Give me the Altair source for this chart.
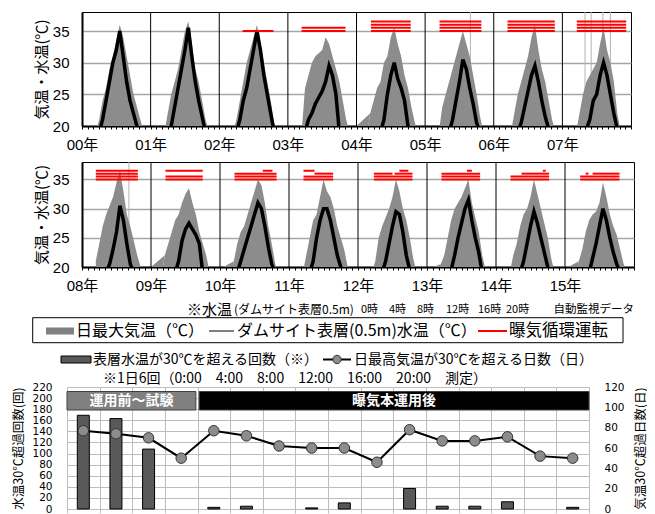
import altair as alt
import pandas as pd

FONT = "Noto Sans CJK JP"
NUM_FONT = "Liberation Sans, Noto Sans CJK JP"
BOT_NUM_FONT = "DejaVu Sans"

# ---------------- data ----------------
# sample positions inside each year (fraction of the year)
FRACS = [0.20, 0.25, 0.30, 0.35, 0.40, 0.45, 0.50, 0.55, 0.60, 0.65, 0.70, 0.75, 0.80, 0.85, 0.90]

# daily max air temperature envelope (deg C), 19 = below plotted range
AIR = {
    2000: [19, 21, 24, 26, 29, 31, 33.5, 36, 34, 31, 28, 25, 23, 21, 19],
    2001: [19, 22, 25, 27, 29, 32, 35, 36.5, 33, 29, 27, 24, 21, 19, 19],
    2002: [19, 21, 24, 27, 30, 32, 34, 36, 33, 30, 27, 24, 20.5, 19, 19],
    2003: [19, 26, 28, 30, 31, 31.5, 32, 34, 33, 31, 29, 27, 24, 21, 19],
    2004: [22, 24, 26, 27, 30, 31, 34, 35.5, 33, 31, 28, 26, 23, 20.5, 19],
    2005: [19, 23, 25, 27, 29, 31, 33, 35, 33, 31, 28, 25, 21.5, 19, 19],
    2006: [19, 19, 22, 25, 27, 29, 31, 34, 36, 32, 29, 27, 24, 21, 19],
    2007: [19, 22, 25, 27, 28, 29, 30, 33, 35.5, 32, 30, 27, 22, 19, 19],
    2008: [21, 24, 27, 29, 30.5, 32, 34.5, 36.5, 33, 29, 27, 24.5, 22, 20, 19],
    2009: [22, 24, 26, 28, 29, 31, 32.5, 33.5, 31, 29, 26, 24, 22, 19, 19],
    2010: [21, 24, 26, 27, 29, 31, 33, 35, 34, 31, 27, 24, 20.5, 19, 19],
    2011: [19, 22, 25, 28, 29, 32, 35, 33, 32, 30, 27, 25, 23, 20, 19],
    2012: [19, 21, 25, 27, 28.5, 30, 32, 35, 33, 30, 28, 25, 21.5, 19, 19],
    2013: [20.5, 22, 25, 28, 30, 31, 32, 33.5, 35, 31, 28.5, 26, 22, 19.5, 19],
    2014: [19, 22, 24, 27, 29, 30, 32, 35, 32.5, 30, 27.5, 25, 21.5, 19, 19],
    2015: [21, 23, 26, 28, 29, 29.5, 31, 34.5, 32, 29, 27, 25.5, 23, 20.5, 19],
}

# dam-site surface (0.5 m) water temperature (deg C), 19 = below plotted range
WATER = {
    2000: [19, 19, 21, 24, 27, 30, 32, 35, 31, 27, 24, 22, 20, 19, 19],
    2001: [19, 19, 20, 23, 26, 29, 32, 35.5, 31, 27, 24, 21.5, 19, 19, 19],
    2002: [19, 19, 21, 24, 26, 29, 32, 35, 32, 28, 25, 22, 19, 19, 19],
    2003: [19, 19, 21, 22, 23.5, 24.5, 25.5, 27, 29.5, 28, 25, 19, 19, 19, 19],
    2004: [19, 19, 19, 19, 21, 25, 28, 30, 27.5, 26, 24, 20, 19, 19, 19],
    2005: [19, 19, 19, 19, 21, 24, 27, 30.5, 29, 26, 23.5, 20.5, 19, 19, 19],
    2006: [19, 19, 19, 19, 20.5, 23, 25.5, 28, 29.5, 27, 24, 21.5, 19.5, 19, 19],
    2007: [19, 19, 19, 19.5, 21, 24, 25, 28, 30, 28, 25, 22, 19.5, 19, 19],
    2008: [19, 19, 19, 19, 20.5, 23, 26, 30.5, 28, 24, 20.5, 19, 19, 19, 19],
    2009: [19, 19, 19, 19, 21, 24.5, 26.5, 27.5, 26.5, 25.5, 24, 19, 19, 19, 19],
    2010: [19, 19, 21, 23, 25, 27, 29, 31, 30, 27, 23.5, 20.5, 19, 19, 19],
    2011: [19, 19, 19, 21, 25, 28, 30, 30, 28, 25, 22, 20, 19, 19, 19],
    2012: [19, 19, 19, 19, 21, 24, 27, 29.5, 29, 26, 22, 19.5, 19, 19, 19],
    2013: [19, 19, 19, 19.5, 22, 25, 27.5, 30, 31.5, 28, 25, 22.5, 19, 19, 19],
    2014: [19, 19, 19, 19, 21, 24, 27, 29.5, 27.5, 25, 22.5, 20, 19, 19, 19],
    2015: [19, 19, 19, 19, 21.5, 24, 27, 30, 28, 25, 22.5, 20.5, 19, 19, 19],
}

# isolated very high air-temperature readings (decimal year)
SPIKES = [2005.66, 2007.33, 2007.42, 2007.59, 2007.70, 2008.68]

# aeration operation periods: (year, start fraction, end fraction, level on chart)
AERATION = [
    (2002, 0.34, 0.79, 35.0),
    (2003, 0.20, 0.84, 35.0), (2003, 0.20, 0.84, 35.5),
    (2004, 0.21, 0.79, 35.0), (2004, 0.21, 0.79, 35.5), (2004, 0.21, 0.79, 36.0), (2004, 0.21, 0.79, 36.5),
    (2005, 0.21, 0.82, 35.0), (2005, 0.21, 0.82, 35.5), (2005, 0.21, 0.82, 36.0), (2005, 0.21, 0.82, 36.5),
    (2006, 0.20, 0.89, 35.0), (2006, 0.20, 0.89, 35.5), (2006, 0.20, 0.89, 36.0), (2006, 0.20, 0.89, 36.5),
    (2007, 0.21, 0.93, 35.0), (2007, 0.21, 0.93, 35.5), (2007, 0.21, 0.93, 36.0), (2007, 0.21, 0.93, 36.5),
    (2008, 0.20, 0.81, 35.0), (2008, 0.20, 0.81, 35.5), (2008, 0.20, 0.81, 36.0), (2008, 0.20, 0.81, 36.5),
    (2009, 0.21, 0.75, 35.0), (2009, 0.21, 0.75, 35.5), (2009, 0.21, 0.75, 36.5),
    (2010, 0.21, 0.82, 35.0), (2010, 0.21, 0.82, 35.5), (2010, 0.21, 0.82, 36.0), (2010, 0.62, 0.76, 36.5),
    (2011, 0.21, 0.64, 35.0), (2011, 0.21, 0.64, 35.5), (2011, 0.37, 0.64, 36.0), (2011, 0.21, 0.37, 36.5),
    (2012, 0.23, 0.79, 35.0), (2012, 0.23, 0.79, 35.5), (2012, 0.23, 0.50, 36.0), (2012, 0.53, 0.79, 36.0),
    (2012, 0.60, 0.73, 36.5),
    (2013, 0.21, 0.77, 35.0), (2013, 0.21, 0.77, 35.5), (2013, 0.21, 0.77, 36.0), (2013, 0.58, 0.65, 36.5),
    (2014, 0.21, 0.77, 35.0), (2014, 0.21, 0.77, 35.5), (2014, 0.37, 0.77, 36.0), (2014, 0.68, 0.72, 36.5),
    (2015, 0.22, 0.79, 35.0), (2015, 0.22, 0.79, 35.5), (2015, 0.40, 0.79, 36.0), (2015, 0.30, 0.34, 36.0),
]

YEARS = list(range(2000, 2016))
OVER30_COUNTS = [169, 163, 108, 0, 3, 5, 0, 2, 11, 0, 37, 5, 5, 13, 0, 3]
HOT_DAYS = [77, 74, 70, 50, 77, 72, 62, 60, 60, 46, 78, 67, 67, 71, 52, 50]
PHASES = [("運用前～試験", 2000.0, 2003.95), ("曝気本運用後", 2004.05, 2016.0)]

NOTE_HEAD = ["※水温", "(ダムサイト表層0.5m)"]
NOTE_TIMES = ["0時", "4時", "8時", "12時", "16時", "20時"]
NOTE_TAIL = "自動監視データ"
LEGEND_LABELS = ["日最大気温（℃）", "ダムサイト表層(0.5m)水温（℃）", "曝気循環運転"]
BOT_LEGEND = ["表層水温が30℃を超える回数（※）", "日最高気温が30℃を超える日数（日）"]
BOT_NOTE = "※1日6回（0:00　4:00　8:00　12:00　16:00　20:00　測定）"

# ---------------- tables ----------------
ts = pd.DataFrame([
    {"year": y, "x": y + f, "air": a, "water": w}
    for y in YEARS for f, a, w in zip(FRACS, AIR[y], WATER[y])
])
aer = pd.DataFrame([{"year": y, "x": y + s, "xe": y + e, "lvl": l} for y, s, e, l in AERATION])
spk = pd.DataFrame({"x": SPIKES})
one = pd.DataFrame({"k": [0]})


def txt(label, x, y, size, align="left", baseline="middle", color="black", weight="normal"):
    return alt.Chart(pd.DataFrame({"t": [label]})).mark_text(
        align=align, baseline=baseline, fontSize=size, color=color, fontWeight=weight
    ).encode(x=alt.value(x), y=alt.value(y), text="t:N")


# all panels share the same plot origin (page x = 81); an invisible blank axis
# title fixes the left extent so the origin does not move
def row_chart(start, end, width, height):
    xs = alt.Scale(domain=[start, end], nice=False, zero=False, padding=0)
    ys = alt.Scale(domain=[20, 38], nice=False, zero=False)
    ticks = [round(start + i / 12, 5) for i in range(12 * (end - start) + 1)]
    lab = ("abs(datum.value - round(datum.value)) < 0.01 && round(datum.value) < %d ? "
           "substring(toString(round(datum.value)), 2) + '年' : ''") % end
    xaxis = alt.Axis(values=ticks, grid=False, ticks=True, tickSize=3, tickColor="black",
                     domainColor="black", domainWidth=2, labelExpr=lab, labelOverlap=False,
                     labelFlush=False, labelFont=NUM_FONT, labelFontSize=15, labelColor="black",
                     labelPadding=8, title=" ", titleX=-73, titleY=-30, titleAlign="left",
                     titleFontSize=2)
    yaxis = alt.Axis(values=[20, 25, 30, 35], grid=True, gridColor="#a6a6a6", gridWidth=1.5,
                     ticks=False, domainColor="black", domainWidth=2, labelFont=NUM_FONT,
                     labelFontSize=15, labelColor="black", labelPadding=13,
                     title="気温・水温(℃)", titleX=-41, titleY=height / 2, titleAngle=270,
                     titleAlign="center", titleBaseline="middle", titleFontSize=15,
                     titleFontWeight="normal", titleColor="black", titleLimit=300)
    d = ts[(ts.year >= start) & (ts.year < end)]
    a = aer[(aer.year >= start) & (aer.year < end)]
    s = spk[(spk.x >= start) & (spk.x < end)]
    yl = pd.DataFrame({"x": list(range(start + 1, end))})
    X = lambda f: alt.X(f, scale=xs, axis=xaxis)
    spikes = alt.Chart(s).mark_rule(color="#b4b4b4", strokeWidth=1, clip=True).encode(x=X("x:Q"))
    air = alt.Chart(d).mark_area(color="#8c8c8c", clip=True).encode(
        x=X("x:Q"), y=alt.Y("air:Q", scale=ys, axis=yaxis), detail="year:N")
    water = alt.Chart(d).mark_line(color="black", strokeWidth=3.5, clip=True).encode(
        x=X("x:Q"), y=alt.Y("water:Q", scale=ys, axis=yaxis), detail="year:N")
    ylines = alt.Chart(yl).mark_rule(color="black", strokeWidth=1).encode(x=X("x:Q"))
    red = alt.Chart(a).mark_rule(color="#ff0000", strokeWidth=2, clip=True).encode(
        x=X("x:Q"), x2="xe:Q", y=alt.Y("lvl:Q", scale=ys, axis=yaxis))
    return alt.layer(spikes, air, water, ylines, red).properties(
        width=width, height=height, view=alt.ViewBackground(stroke="black", strokeWidth=1))


row1 = row_chart(2000, 2008, 549, 114)
row2 = row_chart(2008, 2016, 552, 105)

# ---------------- legend block (positions relative to the shared origin) ----------------
box = alt.Chart(one).mark_rect(fill="white", stroke="black", strokeWidth=1).encode(
    x=alt.value(-49.3), x2=alt.value(541), y=alt.value(14.7), y2=alt.value(39.7))
sw = alt.Chart(one).mark_rect(fill="#808080").encode(
    x=alt.value(-36), x2=alt.value(-8), y=alt.value(24.5), y2=alt.value(31.5))
bl = alt.Chart(one).mark_rule(color="black", strokeWidth=1).encode(
    x=alt.value(127), x2=alt.value(152), y=alt.value(28))
rl = alt.Chart(one).mark_rule(color="#ff0000", strokeWidth=2).encode(
    x=alt.value(396), x2=alt.value(425), y=alt.value(28))
time_x = [279, 307, 335, 364, 396, 424]
legend = alt.layer(
    box, sw, bl, rl,
    txt(LEGEND_LABELS[0], -6, 28, 16),
    txt(LEGEND_LABELS[1], 155, 28, 16),
    txt(LEGEND_LABELS[2], 427, 28, 16.5),
    txt(NOTE_HEAD[0], 105, 0, 15, baseline="top"),
    txt(NOTE_HEAD[1], 152, 1.5, 12, baseline="top"),
    *[txt(t, x, 1, 11, baseline="top") for t, x in zip(NOTE_TIMES, time_x)],
    txt(NOTE_TAIL, 552, 0.5, 11.5, align="right", baseline="top"),
).properties(width=541, height=40, view=alt.ViewBackground(stroke="transparent"))

# ---------------- bottom chart ----------------
H = 122
bot = pd.DataFrame({"year": YEARS, "x": [y + 0.5 for y in YEARS],
                    "count": OVER30_COUNTS, "days": HOT_DAYS})
ph = pd.DataFrame({"phase": [p[0] for p in PHASES], "start": [p[1] for p in PHASES],
                   "end": [p[2] for p in PHASES]})
ph["mid"] = (ph["start"] + ph["end"]) / 2

# the plot area of this panel starts 15 px left of the shared origin
bx = alt.Scale(domain=[2000, 2016], nice=False, zero=False, padding=0, range=[-15, 507])
bxaxis = alt.Axis(values=list(range(2000, 2017)), grid=True, gridColor="#bdbdbd", labels=False,
                  ticks=True, tickSize=4, tickColor="#bdbdbd", domain=False, title=None)
ylaxis = alt.Axis(values=list(range(0, 221, 20)), grid=True, gridColor="#bdbdbd", ticks=False,
                  domain=False, offset=15, labelFont=BOT_NUM_FONT, labelFontSize=10.5,
                  labelColor="black", labelPadding=15, title="水温30℃超過回数(回)",
                  titleX=-48.5, titleY=H / 2, titleAngle=270, titleAlign="center",
                  titleBaseline="middle", titleFontSize=12.5, titleFontWeight="normal",
                  titleColor="black", titleLimit=300)
yraxis = alt.Axis(orient="right", values=list(range(0, 121, 20)), grid=False, ticks=False,
                  domain=False, labelFont=BOT_NUM_FONT, labelFontSize=10.5, labelColor="black",
                  labelPadding=15, title="気温30℃超過日数(日)", titleX=51, titleY=H / 2,
                  titleAngle=270, titleAlign="center", titleBaseline="middle", titleFontSize=12.5,
                  titleFontWeight="normal", titleColor="black", titleLimit=300)
BX = lambda f: alt.X(f, scale=bx, axis=bxaxis)

bars = alt.Chart(bot).transform_filter("datum.count > 0").mark_bar(
    size=12, color="#595959", stroke="black", strokeWidth=1).encode(
    x=BX("x:Q"), y=alt.Y("count:Q", scale=alt.Scale(domain=[0, 220], nice=False), axis=ylaxis))
yr = alt.Scale(domain=[0, 120], nice=False)
dline = alt.Chart(bot).mark_line(color="black", strokeWidth=2).encode(
    x=BX("x:Q"), y=alt.Y("days:Q", scale=yr, axis=yraxis))
dpts = alt.Chart(bot).mark_circle(size=110, color="#8c8c8c", stroke="#333333", strokeWidth=1,
                                  opacity=1).encode(
    x=BX("x:Q"), y=alt.Y("days:Q", scale=yr, axis=yraxis))
days = alt.layer(dline, dpts)

prect = alt.Chart(ph).mark_rect(stroke="#404040", strokeWidth=1).encode(
    x=BX("start:Q"), x2="end:Q", y=alt.value(4.5), y2=alt.value(23),
    color=alt.Color("phase:N", scale=alt.Scale(domain=[p[0] for p in PHASES],
                                                range=["#808080", "#000000"]), legend=None))
ptext = alt.Chart(ph).mark_text(color="white", fontWeight="bold", fontSize=14).encode(
    x=BX("mid:Q"), y=alt.value(14), text="phase:N")

lsw = alt.Chart(one).mark_rect(fill="#595959", stroke="black", strokeWidth=1).encode(
    x=alt.value(-21), x2=alt.value(9), y=alt.value(-31), y2=alt.value(-24))
lln = alt.Chart(one).mark_rule(color="black", strokeWidth=2).encode(
    x=alt.value(241), x2=alt.value(269), y=alt.value(-27.5))
lpt = alt.Chart(one).mark_circle(size=70, color="#8c8c8c", stroke="#333333", strokeWidth=1,
                                 opacity=1).encode(x=alt.value(255), y=alt.value(-27.5))

bottom = alt.layer(
    bars, days, prect, ptext, lsw, lln, lpt,
    txt(BOT_LEGEND[0], 11, -34.5, 14, baseline="top"),
    txt(BOT_LEGEND[1], 272, -34.5, 14, baseline="top"),
    txt(BOT_NOTE, 21, -8, 14),
).resolve_scale(y="independent").properties(
    width=507, height=H, view=alt.ViewBackground(stroke="transparent"))

chart = alt.vconcat(row1, row2, legend, bottom, spacing=8).properties(
    padding={"left": 0, "top": 3, "right": 0, "bottom": 0}
).configure(font=FONT)

chart.save("out.html", embed_options={"renderer": "svg", "actions": False})
